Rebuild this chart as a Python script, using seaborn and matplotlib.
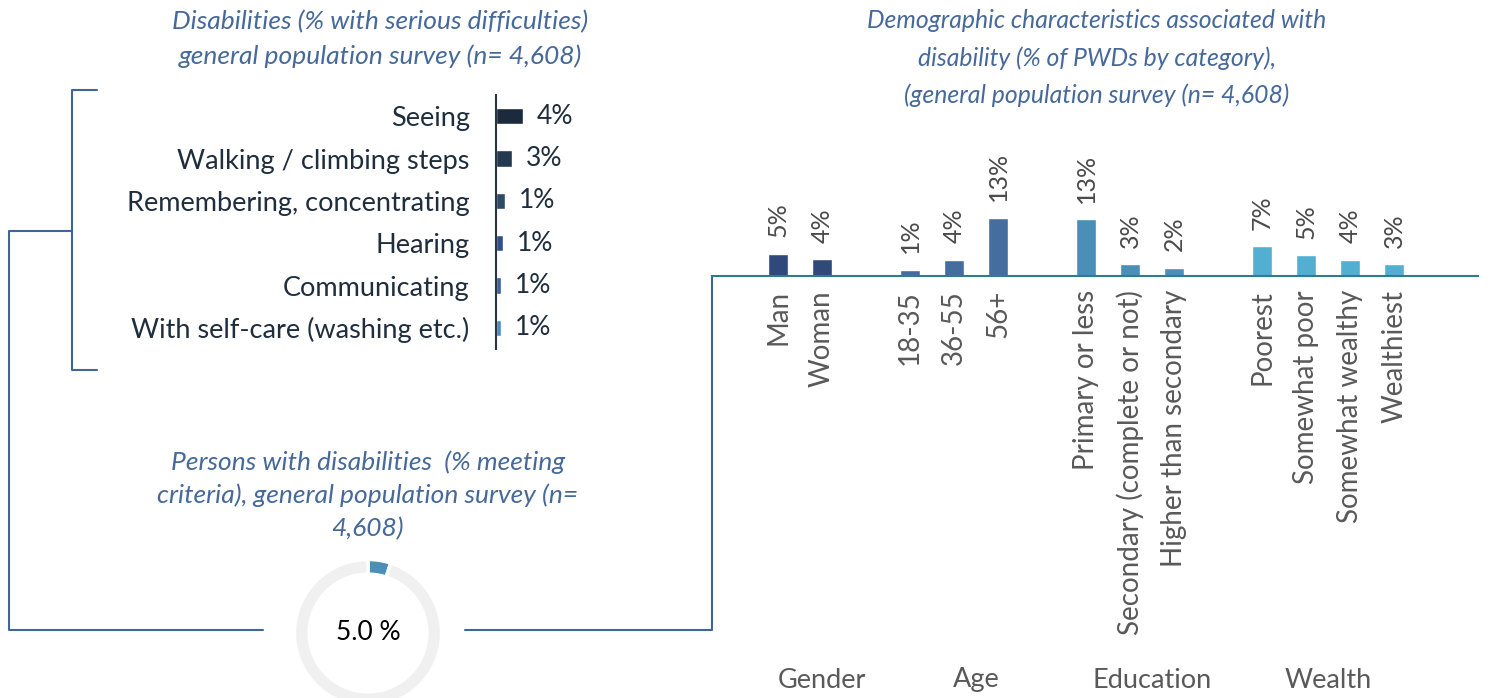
import matplotlib.pyplot as plt
import pandas as pd
import seaborn as sns

# 困难类别 (左图)
dis_cats = ["Seeing", "Walking / climbing steps", "Remembering, concentrating",
            "Hearing", "Communicating", "With self-care (washing etc.)"]
dis_vals = [4.4, 2.6, 1.4, 1.1, 0.8, 0.8]
dis_colors = ["#1b2a3c", "#23394f", "#2b4b69", "#30508a", "#3763a0", "#4a8cc6"]

# 甜甜圈
pwd_share = 5.0

# 人口特征 (右图)
demo_cats = ["Man", "Woman", "18-35", "36-55", "56+", "Primary or less",
             "Secondary (complete or not)", "Higher than secondary",
             "Poorest", "Somewhat poor", "Somewhat wealthy", "Wealthiest"]
demo_groups = ["Gender"] * 2 + ["Age"] * 3 + ["Education"] * 3 + ["Wealth"] * 4
demo_vals = [5.0, 3.7, 1.3, 3.6, 13.0, 12.6, 2.6, 1.8, 6.6, 4.6, 3.6, 2.6]
group_names = ["Gender", "Age", "Education", "Wealth"]
group_colors = ["#2f4a7a", "#456d9d", "#4a8fb8", "#52afd1"]

title_left = "Disabilities (% with serious difficulties)\ngeneral population survey (n= 4,608)"
title_donut = "Persons with disabilities  (% meeting\ncriteria), general population survey (n=\n4,608)"
title_right = ("Demographic characteristics associated with\n"
               "disability (% of PWDs by category),\n(general population survey (n= 4,608)")

W, H = 1490, 698
TITLE_C = "#46699a"
LINE_C = "#3f6796"
DARK = "#1f2d3d"
GREY = "#595959"

sns.set_style("white")
plt.rcParams['font.family'] = ['Lato', 'DejaVu Sans']


def box(x0, y0, x1, y1):
    return [x0 / W, 1 - y1 / H, (x1 - x0) / W, (y1 - y0) / H]


fig = plt.figure(figsize=(W / 100, H / 100), dpi=100)

# 背景层: 连线和标题
ax0 = fig.add_axes([0, 0, 1, 1])
ax0.set_xlim(0, W)
ax0.set_ylim(H, 0)
ax0.axis('off')
ax0.patch.set_visible(False)
ax0.plot([97, 72, 72, 97], [90, 90, 370, 370], color=LINE_C, lw=1.5)
ax0.plot([72, 9, 9, 263], [231, 231, 630, 630], color=LINE_C, lw=1.5)
ax0.plot([465, 712, 712], [630, 630, 276], color=LINE_C, lw=1.5)
ax0.text(380, 39, title_left, ha='center', va='center', fontsize=19,
         style='italic', color=TITLE_C, linespacing=1.6)
ax0.text(368, 495, title_donut, ha='center', va='center', fontsize=19,
         style='italic', color=TITLE_C, linespacing=1.5)
ax0.text(1097, 58, title_right, ha='center', va='center', fontsize=17.8,
         style='italic', color=TITLE_C, linespacing=1.7)

# 左图
ax1 = fig.add_axes(box(496, 95, 640, 349))
sns.barplot(x=dis_vals, y=dis_cats, hue=dis_cats, palette=dis_colors, saturation=1,
            legend=False, width=0.38, orient='h', ax=ax1)
ax1.set_xlim(0, 144 / 6.1)
ax1.set_ylim(5.5, -0.5)
ax1.set_xticks([])
ax1.set_xlabel('')
ax1.set_ylabel('')
for s in ['top', 'right', 'bottom']:
    ax1.spines[s].set_visible(False)
ax1.spines['left'].set_color('#2b3440')
ax1.spines['left'].set_linewidth(1.5)
ax1.tick_params(axis='y', length=0, pad=19, labelsize=19.5, labelcolor=DARK)
for i, v in enumerate(dis_vals):
    ax1.annotate(f"{round(v)}%", (v, i), xytext=(10, 0), textcoords='offset points',
                 ha='left', va='center', fontsize=19, color=DARK)

# 甜甜圈
ax3 = fig.add_axes(box(293, 558, 443, 708))
ax3.pie([pwd_share, 100 - pwd_share], colors=["#4a8fb8", "#f0f0f0"], startangle=90,
        counterclock=False, wedgeprops=dict(width=0.2, edgecolor='white', linewidth=2.5))
ax3.set_xlim(-1.02, 1.02)
ax3.set_ylim(-1.02, 1.02)
ax3.set_aspect('equal')
ax3.text(0, 0, f"{pwd_share:.1f} %", ha='center', va='center', fontsize=19, color='black')

# 右图
pos = []
p = 0
for i, g in enumerate(demo_groups):
    if i > 0 and g != demo_groups[i - 1]:
        p += 1
    pos.append(p)
    p += 1
df = pd.DataFrame({"pos": pos, "val": demo_vals, "group": demo_groups})

ax2 = fig.add_axes(box(712, 141, 1478, 276))
sns.barplot(data=df, x="pos", y="val", hue="group",
            palette=dict(zip(group_names, group_colors)), native_scale=True,
            saturation=1, dodge=False, width=0.45, legend=False, ax=ax2)
ax2.set_xlim(-1.5, 15.9)
ax2.set_ylim(0, 30)
ax2.set_yticks([])
ax2.set_xlabel('')
ax2.set_ylabel('')
ax2.set_xticks(pos)
ax2.set_xticklabels(demo_cats, rotation=90, fontsize=20, color=GREY)
ax2.tick_params(axis='x', length=0, pad=10)
for s in ['top', 'right', 'left']:
    ax2.spines[s].set_visible(False)
ax2.spines['bottom'].set_color('#2e7d8c')
ax2.spines['bottom'].set_linewidth(1.5)
for x, v in zip(pos, demo_vals):
    ax2.annotate(f"{round(v)}%", (x, v), xytext=(0, 12), textcoords='offset points',
                 rotation=90, ha='center', va='bottom', fontsize=18, color='#4a4a4a')
group_shift = [0.5, 0.5, 0.5, 0.0]
for g, sh in zip(group_names, group_shift):
    xs = [x for x, gg in zip(pos, demo_groups) if gg == g]
    ax2.text(sum(xs) / len(xs) + sh, (276 - 680) / 135, g, transform=ax2.get_xaxis_transform(),
             ha='center', va='center', fontsize=19.5, color=GREY)

fig.savefig("out.png", dpi=100)
